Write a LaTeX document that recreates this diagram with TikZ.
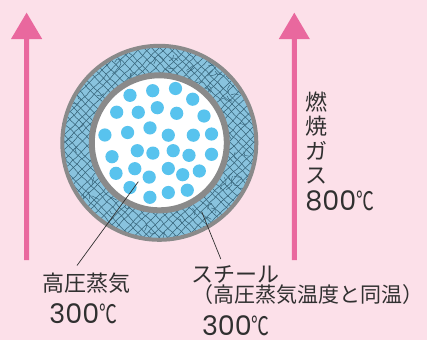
\documentclass[tikz,border=0pt]{standalone}
\usepackage{fontspec}
\usetikzlibrary{decorations.pathmorphing,calc}
\newfontfamily\cjk{Noto Sans CJK JP}
\newfontfamily\numfont{Poppins}
\definecolor{bgpink}{RGB}{252,224,233}
\definecolor{arrowpink}{RGB}{233,104,158}
\definecolor{ringblue}{RGB}{137,195,222}
\definecolor{hatchteal}{RGB}{55,100,122}
\definecolor{rimgray}{RGB}{138,138,138}
\definecolor{dotblue}{RGB}{88,195,238}
\definecolor{inkgray}{RGB}{48,48,48}
% compact degree-Celsius sign, without depth
\newcommand\degC{\raisebox{0pt}[\height][0pt]{\cjk\scalebox{0.66}[0.95]{℃}}}
\newcommand\tempval[1]{{\numfont #1}\degC}
\begin{document}
\begin{tikzpicture}[x=1pt,y=-1pt,
  upflow/.style={fill=arrowpink},
  hatchline/.style={draw=hatchteal,line width=0.55pt,
    decorate,decoration={random steps,segment length=5pt,amplitude=0.5pt}},
  dot/.style={fill=dotblue},
  leader/.style={draw=inkgray,line width=0.7pt},
  jplabel/.style={text=inkgray,anchor=base west,inner sep=0pt,
    font=\cjk\fontsize{22}{24.5}\selectfont},
  numlabel/.style={text=inkgray,anchor=base west,inner sep=0pt,
    font=\fontsize{27}{30}\selectfont}]
\useasboundingbox (0,0) rectangle (427,340);
\fill[bgpink] (0,0) rectangle (427,340);

% flue-gas flow arrows
\fill[upflow] (24,260) -- (24,39) -- (11,39) -- (26.6,12.7) -- (42.2,39)
  -- (29.2,39) -- (29.2,260) -- cycle;
\fill[upflow] (291.8,260) -- (291.8,39) -- (278.8,39) -- (294.3,12.7)
  -- (309.8,39) -- (296.8,39) -- (296.8,260) -- cycle;

% tube cross-section
\coordinate (C) at (159.3,142.8);
\begin{scope}
  \clip (C) circle[radius=97];
  \fill[ringblue] (C) circle[radius=97];
  \pgfmathsetseed{17}
  \foreach \k in {-15,...,15}{
    \draw[hatchline] ($(C)+(\k*8.6-105+2*rand,-105+2*rand)$)
      -- ($(C)+(\k*8.6+105+2*rand,105+2*rand)$);
    \draw[hatchline] ($(C)+(\k*8.6+105+2*rand,-105+2*rand)$)
      -- ($(C)+(\k*8.6-105+2*rand,105+2*rand)$);
  }
  \foreach \j in {1,...,70}{
    \pgfmathsetmacro\ang{360*rnd}
    \pgfmathsetmacro\rad{70+26*rnd}
    \pgfmathsetmacro\dir{360*rnd}
    \draw[draw=hatchteal,line width=0.5pt]
      ($(C)+(\ang:\rad)$) -- ++(\dir:4) -- ++(\dir+70*rand:4);
  }
\end{scope}
\draw[rimgray,line width=4pt] (C) circle[radius=97];
\filldraw[fill=white,draw=rimgray,line width=6pt] (C) circle[radius=67.5];

% steam bubbles
\foreach \x/\y in {130/95.3,152.7/90.7,175.5/88.5,192.7/99.2,
  116.7/112.2,138.3/112.3,157.3/107.7,176.7/113.3,204/116,
  104.9/135,127.6/132.5,150/127.9,168.3/135.2,193.3/135.2,211.5/134,
  112/156.7,137.3/150.7,152.9/153.1,173.2/150.7,189/155.3,211.5/154.3,
  116/173.3,134.8/168.7,149.2/177.1,168.3/168.5,182.7/174.7,199.3/171,
  130/187.5,149.9/197.3,168.3/192.5,187.3/190.2}
  \fill[dot] (\x,\y) circle[radius=6.6];

% labels
\node[jplabel] (steam) at (42.3,291.6) {高圧蒸気};
\node[numlabel] (steamT) at (49.2,323.4) {\tempval{300}};
\node[jplabel] (steel) at (191,282.6) {スチール};
\node[jplabel,font=\cjk\fontsize{21}{24}\selectfont] (steelnote) at (192.5,302.3)
  {（高圧蒸気温度と同温）};
\node[numlabel] (steelT) at (201.8,335.4) {\tempval{300}};
\node[jplabel,align=left] (gas) at (305.6,183.8) {燃\\焼\\ガ\\ス};
\node[numlabel] (gasT) at (305.2,210) {\tempval{800}};

% leader lines
\coordinate (steamtip) at (138.3,181.7);
\coordinate (steamfoot) at (77,265.5);
\coordinate (steeltip) at (201.7,211.7);
\coordinate (steelfoot) at (220.8,259);
\draw[leader] (steamtip) -- (steamfoot);
\draw[leader] (steeltip) -- (steelfoot);
\end{tikzpicture}
\end{document}
